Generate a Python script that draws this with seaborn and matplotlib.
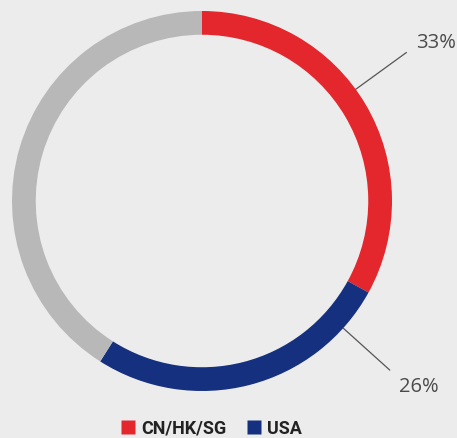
import numpy as np
import seaborn as sns
import matplotlib.pyplot as plt
from matplotlib.lines import Line2D

labels = ["CN/HK/SG", "USA", "Other"]
shares = [33, 26, 41]
colors = ["#e4262d", "#14307f", "#b8b8b8"]
show_label = [True, True, False]

sns.set_theme(style="white")
plt.rcParams["font.family"] = ["Open Sans", "DejaVu Sans"]
bg = "#ececec"

fig = plt.figure(figsize=(4.57, 4.39), dpi=100, facecolor=bg)
# axes placed so the ring spans the left part of the canvas
ax = fig.add_axes([12 / 457, 47 / 439, 380 / 457, 380 / 439])
ax.set_facecolor(bg)

wedges, _ = ax.pie(shares, colors=colors, startangle=90, counterclock=False,
                   radius=1.0, wedgeprops=dict(width=0.125, edgecolor="none"))
ax.set_xlim(-1, 1)
ax.set_ylim(-1, 1)
ax.set_aspect("equal")
ax.axis("off")

# leader lines: angle (deg) along which each label is pulled out
label_angles = [36, -42]
for w, ang, s, show in zip(wedges, label_angles + [None], shares, show_label):
    if not show:
        continue
    a = np.deg2rad(ang)
    x0, y0 = np.cos(a) * 1.0, np.sin(a) * 1.0
    x1, y1 = np.cos(a) * 1.33, np.sin(a) * 1.33
    ax.plot([x0, x1], [y0, y1], color="#555555", lw=0.9, clip_on=False)
    if ang > 0:
        ax.text(x1 + 0.05, y1 + 0.0, f"{s}%", fontsize=14.5, color="#4a4a4a",
                ha="left", va="bottom", clip_on=False)
    else:
        ax.text(x1 + 0.05, y1 - 0.03, f"{s}%", fontsize=14.5, color="#4a4a4a",
                ha="left", va="top", clip_on=False)

handles = [Line2D([0], [0], marker="s", color="none", markerfacecolor=c,
                  markeredgecolor="none", markersize=10) for c in colors[:2]]
leg = fig.legend(handles, labels[:2], loc="center", bbox_to_anchor=(212 / 457, 1 - 429 / 439),
                 ncol=2, frameon=False, handlelength=0.7, handletextpad=0.35,
                 columnspacing=1.2, prop=dict(family=["Roboto", "DejaVu Sans"],
                                              weight="bold", size=13))
for t in leg.get_texts():
    t.set_color("#222222")

fig.savefig("out.png", dpi=100, facecolor=bg)
